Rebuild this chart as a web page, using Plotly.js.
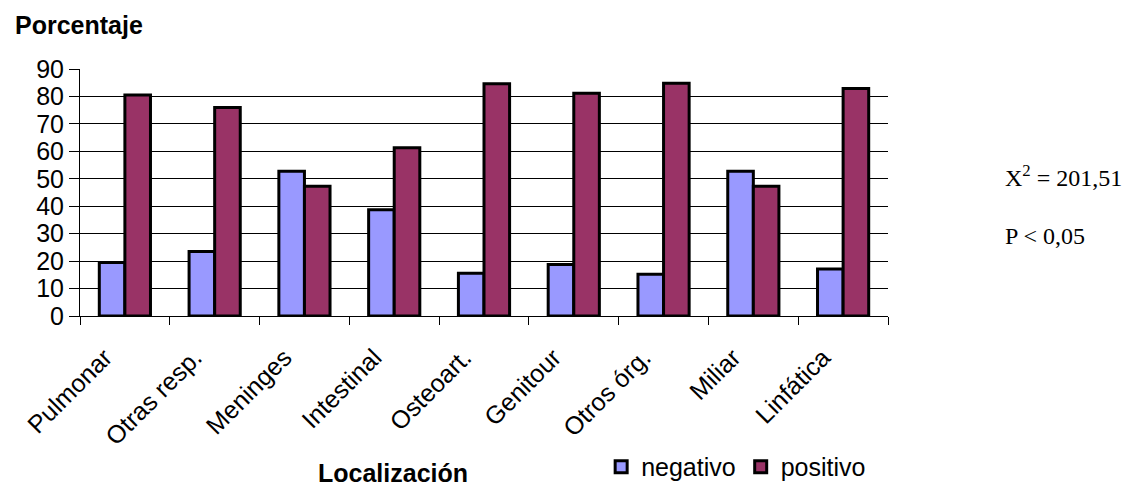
<!DOCTYPE html>
<html>
<head>
<meta charset="utf-8">
<script src="https://cdn.plot.ly/plotly-3.0.1.min.js"></script>
<style>html,body{margin:0;padding:0;background:#fff;}#chart{width:1135px;height:486px;}</style>
</head>
<body>
<div id="chart"></div>
<script>
var categories = ["Pulmonar", "Otras resp.", "Meninges", "Intestinal", "Osteoart.", "Genitour", "Otros órg.", "Miliar", "Linfática"];
var negativo = [19.5, 23.5, 52.7, 38.7, 15.6, 18.8, 15.2, 52.7, 17.1];
var positivo = [80.5, 76.0, 47.3, 61.3, 84.6, 81.2, 84.8, 47.3, 82.9];
var yTicks = [0, 10, 20, 30, 40, 50, 60, 70, 80, 90];

var font = "Arial, 'Liberation Sans', sans-serif";
var serif = "'Times New Roman', 'Liberation Serif', serif";

var traces = [
  {type: "bar", name: "negativo", x: categories, y: negativo,
   marker: {color: "#9999FF", line: {color: "#000000", width: 3}}},
  {type: "bar", name: "positivo", x: categories, y: positivo,
   marker: {color: "#993366", line: {color: "#000000", width: 3}}}
];

var layout = {
  width: 1135, height: 486,
  margin: {l: 80, r: 247, t: 69, b: 170, autoexpand: false},
  paper_bgcolor: "#ffffff", plot_bgcolor: "#ffffff",
  barmode: "group", bargap: 0.43, bargroupgap: 0,
  font: {family: font, color: "#000000", size: 24},
  showlegend: true,
  legend: {orientation: "h", x: 0.645, xanchor: "left", y: -0.518, yanchor: "top",
           font: {family: font, size: 25, color: "#000"}, itemwidth: 30,
           tracegroupgap: 0, bgcolor: "rgba(0,0,0,0)"},
  xaxis: {
    type: "category", tickson: "boundaries", ticks: "outside", ticklen: 8, tickcolor: "#000",
    showline: true, linecolor: "#000", linewidth: 1, showgrid: false, zeroline: false,
    tickangle: -45, tickfont: {family: font, size: 25, color: "#000"},
    ticklabelstandoff: 16, ticklabelshift: -20,
    automargin: false, fixedrange: true
  },
  yaxis: {
    range: [0, 90], tickvals: yTicks, ticktext: yTicks.map(String),
    ticks: "outside", ticklen: 10, tickcolor: "#000",
    showline: true, linecolor: "#000", linewidth: 1,
    showgrid: true, gridcolor: "#000", gridwidth: 1, zeroline: false,
    tickfont: {family: font, size: 25, color: "#000"},
    automargin: false, fixedrange: true
  },
  annotations: [
    {text: "<b>Porcentaje</b>", xref: "paper", yref: "paper", x: -0.083, y: 1.178,
     xanchor: "left", yanchor: "middle", showarrow: false, font: {family: font, size: 25, color: "#000"}},
    {text: "<b>Localización</b>", xref: "paper", yref: "paper", x: 0.387, y: -0.636,
     xanchor: "center", yanchor: "middle", showarrow: false, font: {family: font, size: 25, color: "#000"}},
    {text: "X<sup>2</sup> = 201,51", xref: "paper", yref: "paper", x: 1.142, y: 0.567,
     xanchor: "left", yanchor: "middle", showarrow: false, font: {family: serif, size: 24, color: "#000"}},
    {text: "P &lt; 0,05", xref: "paper", yref: "paper", x: 1.142, y: 0.324,
     xanchor: "left", yanchor: "middle", showarrow: false, font: {family: serif, size: 24, color: "#000"}}
  ]
};

Plotly.newPlot("chart", traces, layout, {displayModeBar: false, staticPlot: true});
</script>
</body>
</html>
